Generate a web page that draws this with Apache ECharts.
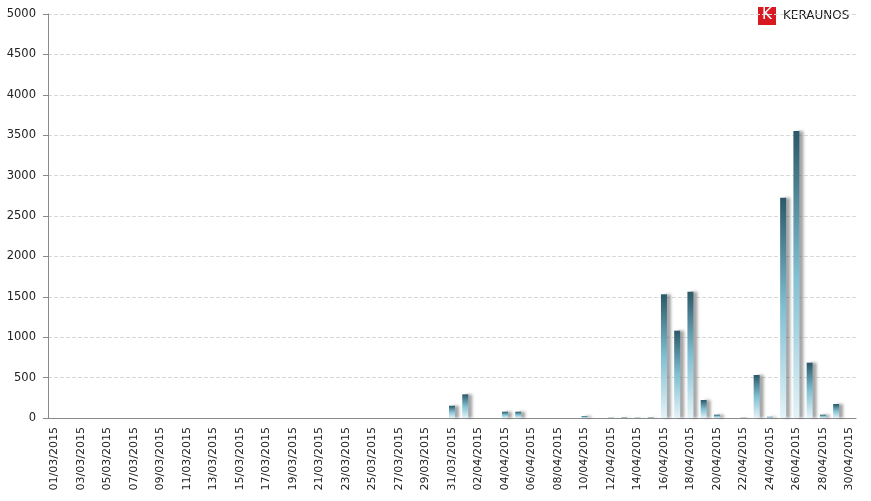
<!DOCTYPE html>
<html><head><meta charset="utf-8">
<script src="https://cdn.jsdelivr.net/npm/echarts@6/dist/echarts.min.js"></script>
<style>html,body{margin:0;padding:0;background:#fff}#c{width:871px;height:501px}</style>
</head><body><div id="c"></div>
<script>
// categories: 01/03/2015 .. 30/04/2015
const marchDays = ["01","02","03","04","05","06","07","08","09","10","11","12","13","14","15","16","17","18","19","20","21","22","23","24","25","26","27","28","29","30","31"];
const aprilDays = ["01","02","03","04","05","06","07","08","09","10","11","12","13","14","15","16","17","18","19","20","21","22","23","24","25","26","27","28","29","30"];
const categories = marchDays.map(d => d + "/03/2015").concat(aprilDays.map(d => d + "/04/2015"));
const marchValues = [0,0,0,0,0,0,0,0,0,0,0,0,0,0,0,0,0,0,0,0,0,0,0,0,0,0,0,0,0,0,152];
const aprilValues = [293,0,0,78,78,0,0,0,0,25,0,3,5,3,5,1531,1081,1563,223,41,0,3,532,15,2727,3552,685,41,173,0];
const values = marchValues.concat(aprilValues);
const yTicks = [0,500,1000,1500,2000,2500,3000,3500,4000,4500,5000];

const chart = echarts.init(document.getElementById('c'));
chart.setOption({
  animation: false,
  backgroundColor: '#fff',
  grid: {left: 48, right: 15, top: 14, bottom: 83},
  xAxis: {
    type: 'category', data: categories, boundaryGap: true,
    axisLine: {lineStyle: {color: '#8a8a8a'}},
    axisTick: {interval: 1, length: 5, lineStyle: {color: '#8a8a8a'}},
    axisLabel: {interval: 1, rotate: 90, color: '#222', fontFamily: 'DejaVu Sans', fontSize: 11, margin: 9}
  },
  yAxis: {
    type: 'value', min: yTicks[0], max: yTicks[yTicks.length-1], interval: 500,
    axisLine: {show: true, lineStyle: {color: '#8a8a8a'}},
    axisTick: {show: true, length: 5, lineStyle: {color: '#8a8a8a'}},
    axisLabel: {color: '#222', fontFamily: 'DejaVu Sans', fontSize: 11.5, margin: 12, formatter: v => String(v)},
    splitLine: {lineStyle: {color: '#d8d8d8', type: 'dashed'}}
  },
  series: [{
    type: 'bar', data: values, barWidth: 6,
    itemStyle: {
      color: new echarts.graphic.LinearGradient(0,0,0,1,[
        {offset: 0, color: '#2a5868'},
        {offset: 0.5, color: '#80bfd2'},
        {offset: 1, color: '#e4f3f8'}
      ]),
      shadowColor: 'rgba(90,90,90,0.55)', shadowOffsetX: 4, shadowOffsetY: 0, shadowBlur: 3
    }
  }],
  graphic: [
    {type: 'rect', left: 758, top: 7, shape: {width: 18, height: 18}, style: {fill: '#d71920'}},
    {type: 'text', left: 762, top: 8, style: {text: 'K', fill: '#fff', font: '15px "DejaVu Sans"'}},
    {type: 'text', left: 783, top: 10, style: {text: 'KERAUNOS', fill: '#222', font: '12px "DejaVu Sans"'}}
  ]
});
</script></body></html>
